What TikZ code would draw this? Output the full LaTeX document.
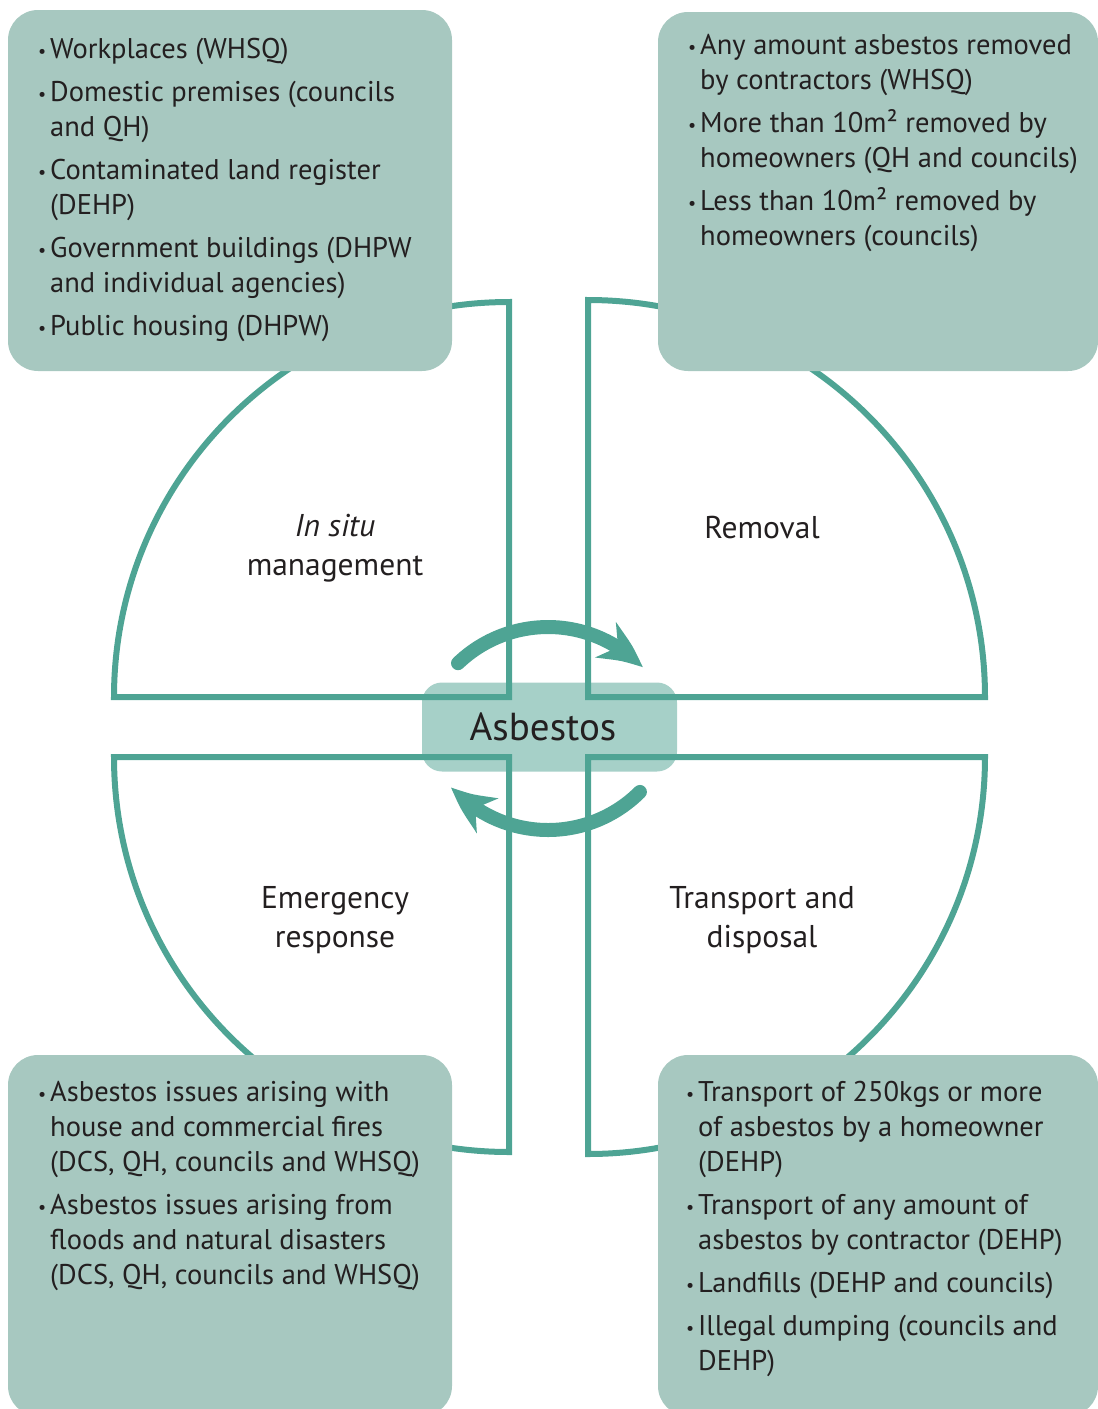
\documentclass[tikz,border=0pt]{standalone}
\usepackage{fontspec}
\setmainfont{PT Sans}
\usetikzlibrary{arrows.meta,bending}
\definecolor{boxfill}{HTML}{A7C8C0}
\definecolor{hubfill}{HTML}{A6D0C8}
\definecolor{lineteal}{HTML}{4EA494}
\definecolor{ink}{HTML}{231F20}
\newcommand\bl{\makebox[12pt][l]{\raisebox{1pt}{\fontsize{18}{18}\selectfont\textbullet}}}
\newcommand\cl{\hspace*{12pt}}
\newenvironment{blist}{\begin{tabular}[t]{@{}l@{}}}{\end{tabular}}
\tikzset{
  cornerbox/.style={fill=boxfill, draw=none, rounded corners=30pt},
  hubbox/.style={fill=hubfill, draw=none, rounded corners=20pt},
  quarter/.style={draw=lineteal, line width=6pt},
  cyclearrow/.style={draw=lineteal, line width=14pt, line cap=round,
    -{Stealth[length=46pt, width=40pt, inset=14pt, bend]}},
  listtext/.style={anchor=base west, inner sep=0pt, text=ink,
    font=\fontsize{28.5}{35}\selectfont},
  label/.style={align=center, inner sep=0pt, text=ink, font=\fontsize{31.5}{39}\selectfont},
}
\begin{document}
\begin{tikzpicture}[x=1pt,y=1pt]
\useasboundingbox (0,0) rectangle (1098,-1409);
% hub
\node[hubbox, minimum width=255pt, minimum height=89pt] (hubbg) at (549.5,-727) {};
% quarters
\coordinate (qtl) at (509,-697);
\coordinate (qtr) at (588,-697);
\coordinate (qbl) at (509,-757);
\coordinate (qbr) at (588,-757);
\draw[quarter] ([yshift=395pt]qtl) -- (qtl) -- ([xshift=-395pt]qtl) arc[start angle=180, end angle=90, radius=395] -- cycle;
\draw[quarter] ([yshift=397pt]qtr) -- (qtr) -- ([xshift=397pt]qtr) arc[start angle=0, end angle=90, radius=397] -- cycle;
\draw[quarter] ([yshift=-395pt]qbl) -- (qbl) -- ([xshift=-395pt]qbl) arc[start angle=180, end angle=270, radius=395] -- cycle;
\draw[quarter] ([yshift=-397pt]qbr) -- (qbr) -- ([xshift=397pt]qbr) arc[start angle=0, end angle=-90, radius=397] -- cycle;
% corner boxes
\path[cornerbox] (8,-10) rectangle (452,-371);
\path[cornerbox] (658,-12) rectangle (1098,-371);
\path[cornerbox] (8,-1055) rectangle (452,-1416);
\path[cornerbox] (658,-1055) rectangle (1098,-1416);
% hub text
\node[anchor=base, inner sep=0pt, text=ink, font=\fontsize{39}{44}\selectfont] (hub) at (543,-740) {Asbestos};
% cycle arrows
\coordinate (ca) at (548,-757);
\coordinate (cb) at (548,-700);
\draw[cyclearrow] ([shift={(133.8:130)}]ca) arc[start angle=133.8, end angle=43.4, radius=130];
\draw[cyclearrow] ([shift={(-45:130)}]cb) arc[start angle=-45, end angle=-138, radius=130];
% quarter labels
\node[label] (insitu) at (335,-548) {\textit{In situ}\\management};
\node[label] (removal) at (762,-528) {Removal};
\node[label] (emergency) at (335,-920) {Emergency\\response};
\node[label] (transport) at (762,-920) {Transport and\\disposal};
% lists
\node[listtext] (tl) at (38,-58) {\begin{blist}
\bl Workplaces (WHSQ)\\[8pt]
\bl Domestic premises (councils\\
\cl and QH)\\[8pt]
\bl Contaminated land register\\
\cl (DEHP)\\[8pt]
\bl Government buildings (DHPW\\
\cl and individual agencies)\\[8pt]
\bl Public housing (DHPW)
\end{blist}};
\node[listtext] (tr) at (688,-54) {\begin{blist}
\bl Any amount asbestos removed\\
\cl by contractors (WHSQ)\\[8pt]
\bl More than 10m² removed by\\
\cl homeowners (QH and councils)\\[8pt]
\bl Less than 10m² removed by\\
\cl homeowners (councils)
\end{blist}};
\node[listtext] (bl) at (38,-1101) {\begin{blist}
\bl Asbestos issues arising with\\
\cl house and commercial fires\\
\cl (DCS, QH, councils and WHSQ)\\[8pt]
\bl Asbestos issues arising from\\
\cl floods and natural disasters\\
\cl (DCS, QH, councils and WHSQ)
\end{blist}};
\node[listtext] (br) at (686,-1101) {\begin{blist}
\bl Transport of 250kgs or more\\
\cl of asbestos by a homeowner\\
\cl (DEHP)\\[8pt]
\bl Transport of any amount of\\
\cl asbestos by contractor (DEHP)\\[8pt]
\bl Landfills (DEHP and councils)\\[8pt]
\bl Illegal dumping (councils and\\
\cl DEHP)
\end{blist}};
\end{tikzpicture}
\end{document}
